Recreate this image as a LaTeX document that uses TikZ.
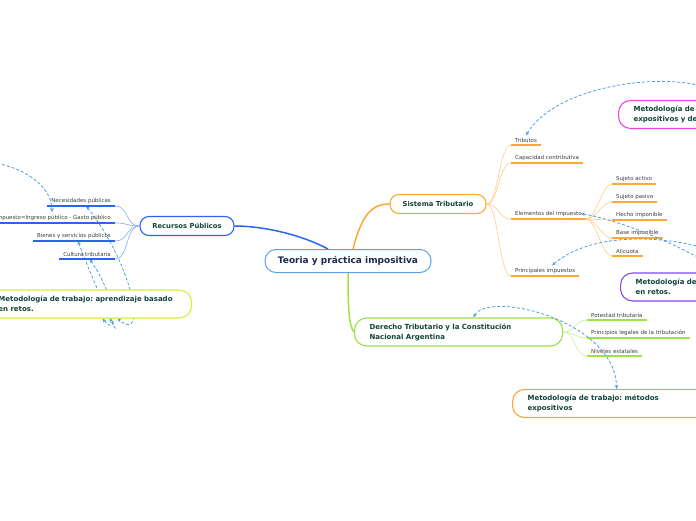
\documentclass[tikz,border=0pt]{standalone}
\usepackage{fontspec}
\setmainfont{DejaVu Sans}
\usetikzlibrary{arrows.meta,backgrounds}
\frenchspacing

\definecolor{rootblue}{HTML}{5AA2E4}
\definecolor{roottext}{HTML}{1B2A4E}
\definecolor{nodetext}{HTML}{14433A}
\definecolor{leaftext}{HTML}{3C3C3C}
\definecolor{recblue}{HTML}{2B63F2}
\definecolor{reclink}{HTML}{93B2F6}
\definecolor{sisorange}{HTML}{FAA933}
\definecolor{sislink}{HTML}{FDD293}
\definecolor{dergreen}{HTML}{9BE347}
\definecolor{derlink}{HTML}{CDF2A3}
\definecolor{metmagenta}{HTML}{E846E6}
\definecolor{metpurple}{HTML}{8548F0}
\definecolor{metyellow}{HTML}{D9EE2B}
\definecolor{metorange}{HTML}{F6A63C}
\definecolor{relblue}{HTML}{4F9CE6}

\tikzset{
  topic/.style={draw, line width=1.1pt, fill=white, rounded corners=9pt, text=nodetext,
    font=\fontsize{6.8}{8}\selectfont\bfseries, minimum height=19pt, inner sep=0pt},
  bigtopic/.style={draw, line width=1.1pt, fill=white, rounded corners=12pt, text=nodetext,
    font=\fontsize{7}{10}\selectfont\bfseries, text width=178pt, align=left,
    inner xsep=15pt, inner ysep=0pt, minimum height=28pt},
  leaf/.style={font=\fontsize{5.5}{6.5}\selectfont, text=leaftext, inner xsep=4pt, inner ysep=2.5pt},
  rel/.style={draw=relblue, line width=0.8pt, dash pattern=on 3pt off 2pt,
    {Stealth[length=4pt,width=3.5pt]}-{Stealth[length=4pt,width=3.5pt]}},
}

\begin{document}
\begin{tikzpicture}[x=1pt,y=-1pt]

  \useasboundingbox (0,0) rectangle (696,520);
  \clip (0,0) rectangle (696,520);

  % main topics
  \node[draw=rootblue, line width=1pt, fill=white, rounded corners=11pt, minimum width=166pt,
    minimum height=23pt, text=roottext, font=\fontsize{9}{10}\selectfont\bfseries]
    (root) at (348,261) {Teoria y práctica impositiva};
  \node[topic, draw=recblue, minimum width=94pt] (recursos) at (187,226) {Recursos Públicos};
  \node[topic, draw=sisorange, minimum width=96pt] (sistema) at (438,204) {Sistema Tributario};
  \node[bigtopic, draw=dergreen, anchor=west] (derecho) at (354,332)
    {Derecho Tributario y la Constitución\\Nacional Argentina};

  % methodology boxes
  \node[bigtopic, draw=metmagenta, anchor=west] (metmag) at (618,114.5)
    {Metodología de trabajo: métodos\\expositivos y demostrativos};
  \node[bigtopic, draw=metpurple, anchor=west] (metpur) at (620,287)
    {Metodología de trabajo: aprendizaje basado\\en retos.};
  \node[bigtopic, draw=metyellow, anchor=east] (metyel) at (192,304)
    {Metodología de trabajo: aprendizaje basado\\en retos.};
  \node[bigtopic, draw=metorange, anchor=west] (metora) at (512,403.5)
    {Metodología de trabajo: métodos\\expositivos};

  % Recursos Publicos
  \node[leaf, anchor=south east] (necesidades) at (115,206) {Necesidades públicas};
  \node[leaf, anchor=south east] (impuesto) at (115,223) {Impuesto=Ingreso público - Gasto público};
  \node[leaf, anchor=south east] (bienes) at (115,241) {Bienes y servicios públicos};
  \node[leaf, anchor=south east] (cultura) at (115,259) {Cultura tributaria};

  % Sistema Tributario
  \node[leaf, anchor=south west] (tributos) at (511,145) {Tributos};
  \node[leaf, anchor=south west] (capacidad) at (511,163) {Capacidad contributiva};
  \node[leaf, anchor=south west] (elementos) at (511,219) {Elementos del impuesto};
  \node[leaf, anchor=south west] (principales) at (511,276) {Principales impuestos};

  \node[leaf, anchor=south west] (activo) at (612,184) {Sujeto activo};
  \node[leaf, anchor=south west] (pasivo) at (612,202) {Sujeto pasivo};
  \node[leaf, anchor=south west] (hecho) at (612,220) {Hecho imponible};
  \node[leaf, anchor=south west] (base) at (612,238) {Base imponible};
  \node[leaf, anchor=south west] (alicuota) at (612,256) {Alicuota};

  % Derecho Tributario
  \node[leaf, anchor=south west] (potestad) at (587,320) {Potestad tributaria};
  \node[leaf, anchor=south west] (principios) at (587,338) {Principios legales de la tributación};
  \node[leaf, anchor=south west] (niveles) at (587,356) {Niveles estatales};

  % branches
  \draw[recblue, line width=1.5pt] ([xshift=-20pt]root.north) .. controls (300,234) and (262,226) .. (recursos.east);
  \draw[sisorange, line width=1.5pt] ([xshift=5pt]root.north) .. controls (362,214) and (372,204) .. (sistema.west);
  \draw[dergreen, line width=1.5pt] (root.south) .. controls (348,310) and (349,326) .. (derecho.west);

  \foreach \n in {necesidades,impuesto,bienes,cultura}{
    \draw[reclink, line width=0.7pt] (recursos.west) .. controls +(-14,0) and +(14,0) .. (\n.south east);
    \draw[recblue, line width=1.6pt] (\n.south west) -- (\n.south east);
  }
  \foreach \n in {tributos,capacidad,elementos,principales}{
    \draw[sislink, line width=0.7pt] (sistema.east) .. controls +(12,0) and +(-12,0) .. (\n.south west);
  }
  \foreach \n in {activo,pasivo,hecho,base,alicuota}{
    \draw[sislink, line width=0.7pt] (elementos.south east) .. controls +(10,0) and +(-10,0) .. (\n.south west);
  }
  \foreach \n in {tributos,capacidad,elementos,principales,activo,pasivo,hecho,base,alicuota}{
    \draw[sisorange, line width=1.6pt] (\n.south west) -- (\n.south east);
  }
  \foreach \n in {potestad,principios,niveles}{
    \draw[derlink, line width=0.7pt] (derecho.east) .. controls +(12,0) and +(-12,0) .. (\n.south west);
    \draw[dergreen, line width=1.6pt] (\n.south west) -- (\n.south east);
  }

  % relations
  \coordinate (offleft) at (-30,160);
  \draw[rel] (metmag.north) .. controls (700,68) and (560,78) .. (tributos.north);
  \draw[rel] (offleft) .. controls (20,162) and (52,185) .. ([xshift=-63pt]impuesto.north east);
  \draw[rel] ([xshift=-5pt]elementos.east) .. controls (620,220) and (680,245) .. (metpur.north);
  \draw[rel] ([xshift=7pt]principales.north) .. controls (600,225) and (700,235) .. ([xshift=40pt]metpur.north);
  \draw[rel] ([xshift=15pt]derecho.north) .. controls (488,290) and (615,320) .. (metora.north);

  \begin{scope}[on background layer]
    \draw[rel] ([xshift=5pt]necesidades.south) .. controls (130,260) and (150,345) .. ([xshift=30pt]metyel.south);
    \draw[rel] ([xshift=4pt]bienes.south) .. controls (100,300) and (125,345) .. ([xshift=22pt]metyel.south);
    \draw[rel] ([xshift=2.5pt]cultura.south) .. controls (115,295) and (120,340) .. ([xshift=15pt]metyel.south);
  \end{scope}

\end{tikzpicture}
\end{document}
